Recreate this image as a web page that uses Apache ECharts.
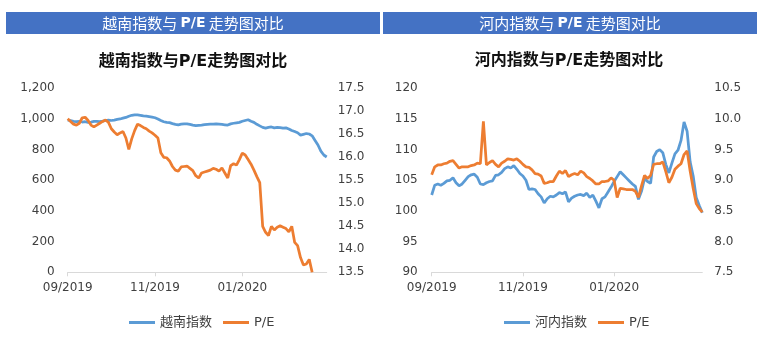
<!DOCTYPE html>
<html>
<head>
<meta charset="utf-8">
<script src="https://cdn.jsdelivr.net/npm/echarts@6/dist/echarts.min.js"></script>
<style>
html,body{margin:0;padding:0;background:#fff;}
#c{width:762px;height:341px;}
</style>
</head>
<body>
<div id="c"></div>
<script>
// ---- data ----
const tickLabels = ['09/2019', '11/2019', '01/2020'];
const tickIndex = [0, 30, 60];
const categories = Array.from({length: 90}, (_, i) => i);

const vnIndex = [
  993, 990, 985, 983, 985, 980, 982, 978, 980, 984,
  985, 983, 986, 990, 992, 990, 993, 997, 1000, 1005,
  1010, 1018, 1024, 1027, 1026, 1024, 1020, 1018, 1015, 1012,
  1008, 1000, 990, 982, 978, 976, 970, 965, 962, 966,
  968, 968, 965, 960, 956, 958, 960, 963, 965, 966,
  967, 968, 966, 964, 962, 960, 968, 972, 975, 978,
  985, 990, 995, 985, 978, 965, 955, 945, 940, 945,
  948, 942, 945, 944, 940, 942, 935, 925, 918, 910,
  895, 900, 905, 902, 890, 860, 830, 790, 765, 752
];
const vnPE = [
  16.84, 16.78, 16.72, 16.70, 16.74, 16.86, 16.87, 16.80, 16.70, 16.66,
  16.70, 16.74, 16.78, 16.81, 16.76, 16.62, 16.55, 16.49, 16.53, 16.56,
  16.42, 16.17, 16.40, 16.58, 16.72, 16.69, 16.65, 16.62, 16.57, 16.53,
  16.48, 16.42, 16.10, 16.00, 15.99, 15.92, 15.80, 15.72, 15.70, 15.79,
  15.80, 15.81, 15.76, 15.71, 15.60, 15.55, 15.66, 15.68, 15.70, 15.72,
  15.76, 15.74, 15.70, 15.77, 15.66, 15.55, 15.82, 15.86, 15.83, 15.95,
  16.09, 16.05, 15.95, 15.85, 15.72, 15.58, 15.45, 14.50, 14.37, 14.30,
  14.50, 14.42, 14.48, 14.51, 14.48, 14.45, 14.38, 14.50, 14.15, 14.08,
  13.82, 13.66, 13.68, 13.78, 13.50, null, null, null, null, null
];
const hnIndex = [
  102.6, 104.2, 104.4, 104.2, 104.5, 104.9, 105.0, 105.4, 104.6, 104.1,
  104.4, 105.0, 105.6, 105.9, 106.0, 105.5, 104.4, 104.3, 104.6, 104.8,
  104.9, 105.8, 105.9, 106.3, 106.9, 107.2, 107.0, 107.4, 106.8, 106.1,
  105.7, 105.0, 103.5, 103.6, 103.5, 102.8, 102.3, 101.3, 102.0, 102.4,
  102.3, 102.6, 103.0, 102.8, 103.1, 101.5, 102.1, 102.4, 102.6, 102.7,
  102.5, 102.9, 102.2, 102.6, 101.6, 100.5, 102.0, 102.3, 103.1, 103.9,
  104.8, 105.6, 106.4, 105.9, 105.4, 104.9, 104.4, 104.0, 101.9, 103.2,
  105.3, 104.8, 104.5, 108.8, 109.7, 110.0, 109.5, 107.6, 106.2, 107.8,
  109.3, 109.9, 111.5, 114.5, 113.0, 108.0, 105.7, 102.2, 100.9, 99.7
];
const hnPE = [
  9.09, 9.22, 9.25, 9.25, 9.27, 9.28, 9.31, 9.32, 9.26, 9.20,
  9.22, 9.22, 9.22, 9.24, 9.25, 9.28, 9.27, 9.96, 9.25, 9.29,
  9.32, 9.26, 9.22, 9.28, 9.31, 9.35, 9.34, 9.33, 9.35, 9.31,
  9.26, 9.22, 9.21, 9.17, 9.11, 9.10, 9.07, 8.95, 8.96, 8.98,
  8.98, 9.07, 9.15, 9.11, 9.16, 9.06, 9.09, 9.11, 9.09, 9.15,
  9.12, 9.06, 9.03, 8.99, 8.94, 8.94, 8.98, 8.98, 8.99, 9.04,
  9.00, 8.72, 8.87, 8.86, 8.85, 8.85, 8.85, 8.82, 8.72, 8.91,
  9.08, 9.03, 9.08, 9.26, 9.27, 9.27, 9.30, 9.14, 8.96, 9.05,
  9.18, 9.23, 9.27, 9.42, 9.48, 9.15, 8.87, 8.62, 8.54, 8.48
];

// ---- styles ----
const BLUE = '#5B9BD5', ORANGE = '#ED7D31', BAR = '#4472C4';
const LAT = "'DejaVu Sans', 'Noto Sans CJK SC', sans-serif";
const CJK = "'Noto Sans CJK SC', sans-serif";
const labelColor = '#404040';

const showTick = (i) => tickIndex.indexOf(i) >= 0;

function xAxis(gi) {
  return {
    type: 'category', gridIndex: gi, data: categories, boundaryGap: false,
    axisLine: {lineStyle: {color: '#D9D9D9', width: 1}},
    axisTick: {show: true, interval: showTick, length: 4, lineStyle: {color: '#D9D9D9'}},
    axisLabel: {
      interval: showTick, margin: 10, color: labelColor, fontFamily: LAT, fontSize: 12,
      formatter: (v) => { const k = tickIndex.indexOf(Number(v)); return k >= 0 ? tickLabels[k] : ''; }
    },
    splitLine: {show: false}
  };
}
function yAxis(gi, pos, min, max, interval, fmt, margin) {
  return {
    type: 'value', gridIndex: gi, position: pos, min, max, interval,
    axisLine: {show: false}, axisTick: {show: false}, splitLine: {show: false},
    axisLabel: {color: labelColor, fontFamily: LAT, fontSize: 12, margin, formatter: fmt}
  };
}
const fmtComma = (v) => Number(v).toLocaleString('en-US');
const fmt1 = (v) => Number(v).toFixed(1);
const fmt0 = (v) => String(v);

function line(name, data, xi, yi, color) {
  return {
    name, type: 'line', data, xAxisIndex: xi, yAxisIndex: yi,
    symbol: 'none', smooth: false, connectNulls: false,
    lineStyle: {color, width: 2.75}, itemStyle: {color},
    emphasis: {disabled: true}
  };
}

function header(cx, x, w, place) {
  return [
    {type: 'rect', shape: {x, y: 12, width: w, height: 22}, style: {fill: BAR}, silent: true},
    {type: 'text', x: cx, y: 23.5, silent: true, style: {
      text: '{a|' + place + '指数与 }{b|P/E}{a| 走势图对比}',
      align: 'center', verticalAlign: 'middle',
      rich: {
        a: {fill: '#fff', fontFamily: CJK, fontSize: 15},
        b: {fill: '#fff', fontFamily: LAT, fontSize: 14, fontWeight: 'bold'}
      }
    }}
  ];
}
function chartTitle(cx, cy, place) {
  return {type: 'text', x: cx, y: cy, silent: true, style: {
    text: place + '指数与P/E走势图对比', align: 'center', verticalAlign: 'middle',
    fill: '#111', fontFamily: LAT, fontSize: 16, fontWeight: 'bold'
  }};
}

const chart = echarts.init(document.getElementById('c'), null, {renderer: 'canvas'});
chart.setOption({
  animation: false,
  backgroundColor: '#fff',
  graphic: [
    ...header(193, 6, 374, '越南'),
    ...header(570, 383, 374, '河内'),
    chartTitle(193, 61.5, '越南'),
    chartTitle(569, 60.5, '河内')
  ],
  grid: [
    {left: 67.7, top: 88.3, width: 259, height: 184},
    {left: 431.7, top: 88.3, width: 270.6, height: 184}
  ],
  xAxis: [xAxis(0), xAxis(1)],
  yAxis: [
    yAxis(0, 'left', 0, 1200, 200, fmtComma, 13),
    yAxis(0, 'right', 13.5, 17.5, 0.5, fmt1, 11),
    yAxis(1, 'left', 90, 120, 5, fmt0, 14),
    yAxis(1, 'right', 7.5, 10.5, 0.5, fmt1, 12)
  ],
  legend: [
    {data: ['越南指数', 'P/E'], left: 124, top: 311, itemWidth: 26, itemHeight: 3, itemGap: 11, icon: 'rect',
     selectedMode: false, textStyle: {color: labelColor, fontFamily: LAT, fontSize: 13}},
    {data: ['河内指数', 'P/E'], left: 499, top: 311, itemWidth: 26, itemHeight: 3, itemGap: 11, icon: 'rect',
     selectedMode: false, textStyle: {color: labelColor, fontFamily: LAT, fontSize: 13}}
  ],
  series: [
    line('越南指数', vnIndex, 0, 0, BLUE),
    line('P/E', vnPE, 0, 1, ORANGE),
    line('河内指数', hnIndex, 1, 2, BLUE),
    line('P/E', hnPE, 1, 3, ORANGE)
  ]
});
</script>
</body>
</html>
